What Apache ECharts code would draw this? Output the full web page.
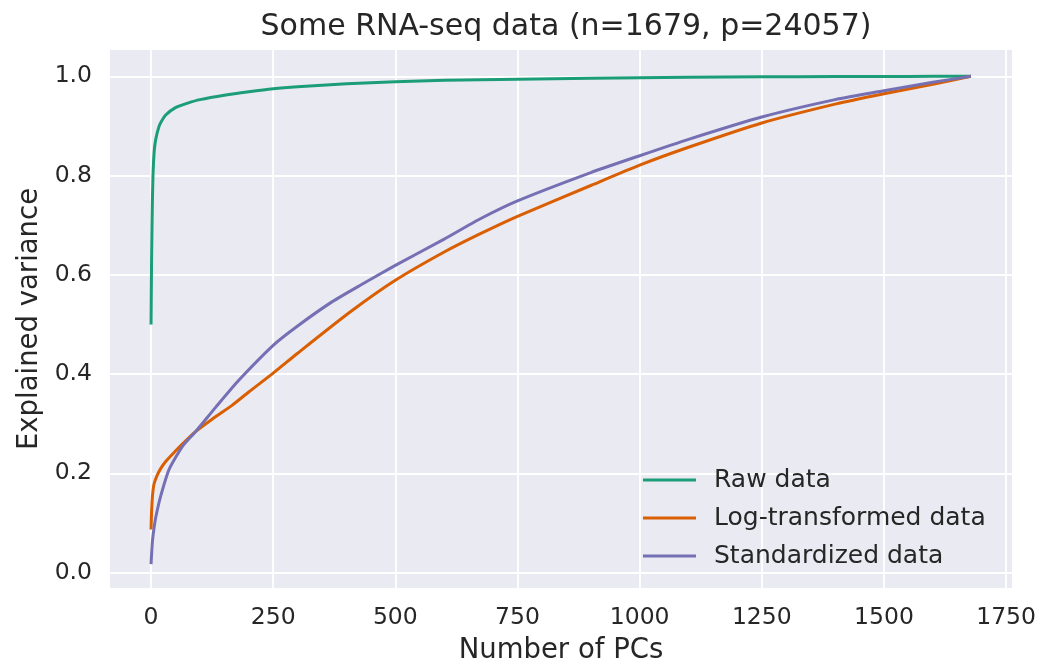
<!DOCTYPE html>
<html>
<head>
<meta charset="utf-8">
<script src="https://cdn.jsdelivr.net/npm/echarts@6/dist/echarts.min.js"></script>
<style>
html,body{margin:0;padding:0;background:#ffffff;}
#chart{width:1039px;height:670px;}
</style>
</head>
<body>
<div id="chart"></div>
<script>
// ---- data ----
const titleText = 'Some RNA-seq data (n=1679, p=24057)';
const xTicks = [0, 250, 500, 750, 1000, 1250, 1500, 1750];
const yTicks = [0.0, 0.2, 0.4, 0.6, 0.8, 1.0];

const rawPC  = [0, 1, 2, 3, 4, 5, 7, 10, 16, 20, 30, 50, 75, 100, 150, 200, 250, 300, 400, 500, 600, 750, 900, 1000, 1100, 1250, 1400, 1500, 1600, 1678];
const rawVar = [0.50, 0.62, 0.70, 0.76, 0.80, 0.825, 0.855, 0.875, 0.898, 0.907, 0.922, 0.937, 0.946, 0.953, 0.962, 0.969, 0.975, 0.979, 0.985, 0.989, 0.992, 0.994, 0.996, 0.997, 0.998, 0.999, 0.9995, 0.9997, 0.9999, 1.0];

const logPC  = [0, 1, 3, 6, 12, 20, 30, 50, 64, 91, 125, 167, 200, 250, 300, 406, 500, 600, 672, 750, 900, 1000, 1100, 1250, 1400, 1500, 1600, 1678];
const logVar = [0.087, 0.12, 0.155, 0.178, 0.195, 0.210, 0.224, 0.245, 0.259, 0.284, 0.309, 0.338, 0.364, 0.402, 0.442, 0.524, 0.589, 0.646, 0.682, 0.718, 0.780, 0.821, 0.857, 0.906, 0.944, 0.965, 0.984, 1.0];

const stdPC  = [0, 1, 3, 6, 10, 20, 37, 64, 91, 133, 180, 250, 300, 371, 430, 500, 600, 672, 750, 900, 1000, 1100, 1250, 1400, 1500, 1600, 1678];
const stdVar = [0.017, 0.035, 0.065, 0.089, 0.113, 0.155, 0.208, 0.254, 0.284, 0.334, 0.388, 0.458, 0.497, 0.546, 0.580, 0.619, 0.672, 0.712, 0.749, 0.806, 0.840, 0.873, 0.918, 0.953, 0.971, 0.988, 1.0];

const seriesNames = ['Raw data', 'Log-transformed data', 'Standardized data'];
const seriesColors = ['#1b9e77', '#d95f02', '#7570b3'];

// ---- chart ----
const pairs = (xs, ys) => xs.map((x, i) => [x, ys[i]]);
const font = '"DejaVu Sans", sans-serif';
const txt = '#262626';

const chart = echarts.init(document.getElementById('chart'), null, {renderer: 'canvas'});
const mkSeries = (name, xs, ys, color) => ({
  name: name, type: 'line', data: pairs(xs, ys),
  showSymbol: false, symbol: 'none',
  smooth: 0.2,
  lineStyle: {color: color, width: 3},
  itemStyle: {color: color},
  emphasis: {disabled: true},
  animation: false
});

chart.setOption({
  animation: false,
  backgroundColor: '#ffffff',
  title: {
    text: titleText, left: 561, textAlign: 'center', top: 7,
    textStyle: {fontFamily: font, fontSize: 30, fontWeight: 'normal', color: txt}
  },
  grid: {left: 110, right: 26, top: 50, bottom: 77, show: true, backgroundColor: '#eaeaf2', borderWidth: 0},
  legend: {
    orient: 'vertical', left: 638, top: 462,
    data: seriesNames,
    icon: 'rect', itemWidth: 53, itemHeight: 3, itemGap: 12,
    textStyle: {fontFamily: font, fontSize: 25, color: txt, lineHeight: 26, padding: [0, 0, 0, 13]},
    selectedMode: false
  },
  xAxis: {
    type: 'value', min: -84, max: 1762,
    name: 'Number of PCs', nameLocation: 'middle', nameGap: 49,
    nameTextStyle: {fontFamily: font, fontSize: 27.5, color: txt},
    axisLine: {show: false},
    axisTick: {show: false, customValues: xTicks},
    axisLabel: {customValues: xTicks, fontFamily: font, fontSize: 23.5, color: txt, margin: 18,
      formatter: v => String(v)},
    splitLine: {show: true, lineStyle: {color: '#ffffff', width: 1.8}}
  },
  yAxis: {
    type: 'value', min: -0.031, max: 1.053,
    name: 'Explained variance', nameLocation: 'middle', nameGap: 64,
    nameTextStyle: {fontFamily: font, fontSize: 27.5, color: txt},
    axisLine: {show: false},
    axisTick: {show: false, customValues: yTicks},
    axisLabel: {customValues: yTicks, fontFamily: font, fontSize: 23.5, color: txt, margin: 18,
      formatter: v => v.toFixed(1)},
    splitLine: {show: true, lineStyle: {color: '#ffffff', width: 1.8}}
  },
  series: [
    mkSeries(seriesNames[0], rawPC, rawVar, seriesColors[0]),
    mkSeries(seriesNames[1], logPC, logVar, seriesColors[1]),
    mkSeries(seriesNames[2], stdPC, stdVar, seriesColors[2])
  ]
});
</script>
</body>
</html>
